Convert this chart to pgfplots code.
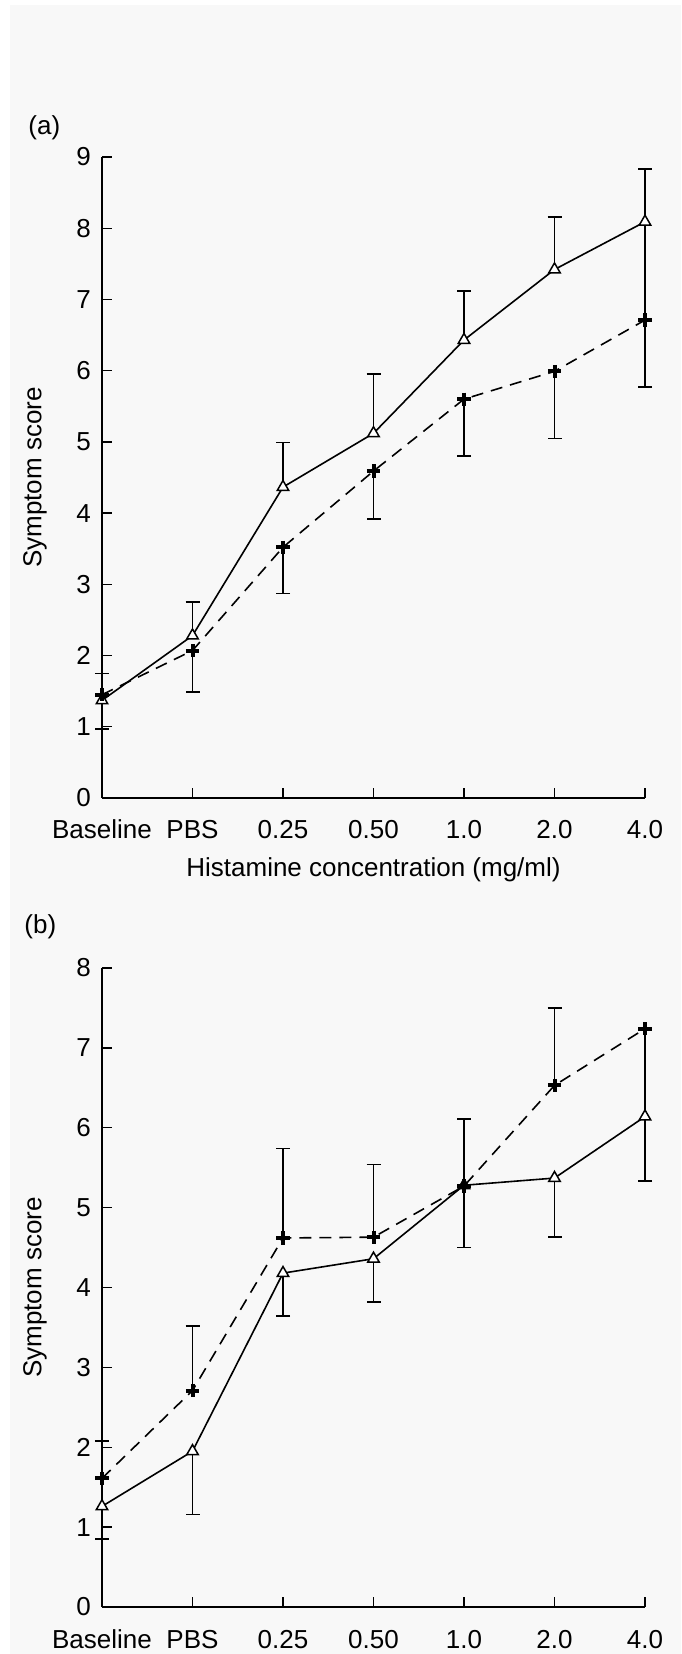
\documentclass[border=0pt]{standalone}
\usepackage{fontspec}
\setmainfont{Liberation Sans}
\usepackage{pgfplots}
\pgfplotsset{compat=1.18}
\definecolor{paper}{HTML}{F8F8F8}

\pgfplotsset{
  symp/.style={
    scale only axis, width=271.5pt,
    axis x line*=bottom, axis y line*=left,
    xmin=0, xmax=6, ymin=0,
    xtick={0,...,6},
    xticklabels={Baseline,PBS,0.25,0.50,1.0,2.0,4.0},
    tick align=inside, major tick length=5pt,
    tick style={black, line width=0.7pt},
    axis line style={line width=0.7pt},
    /pgf/number format/assume math mode=true,
    tick label style={font=\fontsize{13}{15}\selectfont},
    label style={font=\fontsize{13}{15}\selectfont},
    xticklabel style={anchor=base, yshift=-20.5pt},
    yticklabel style={xshift=-2pt},
    ylabel={Symptom score},
    ylabel style={at={(axis description cs:-0.1234,0.5)}, anchor=center},
    clip=false,
  },
  tri/.style={black, line width=0.8pt, mark=triangle*, mark size=3.3pt,
    mark options={fill=white, line width=0.75pt},
    error bars/y explicit,
    error bars/error mark options={rotate=90, mark size=3.5pt, line width=0.8pt},
    error bars/error bar style={line width=0.8pt}},
  crs/.style={black, line width=0.8pt, dash pattern=on 6pt off 4pt, mark=+, mark size=3.3pt,
    mark options={solid, line width=2pt},
    error bars/y explicit,
    error bars/error mark options={solid, rotate=90, mark size=3.5pt, line width=0.8pt},
    error bars/error bar style={solid, line width=0.8pt}},
  link/.style={draw=none, forget plot, error bars/y dir=minus, error bars/y explicit,
    error bars/error mark=none, error bars/error bar style={black, line width=0.8pt}},
}

\begin{document}
\begin{tikzpicture}
\useasboundingbox (0,0) rectangle (340.5pt,827pt);
\fill[paper] (5pt,0) rectangle (340.5pt,824.5pt);

% --- panel (a) ---
\begin{axis}[symp, at={(51pt,428pt)}, anchor=south west, height=320.5pt,
    ymax=9, ytick={0,...,9},
    xlabel={Histamine concentration (mg/ml)},
    xlabel style={at={(axis description cs:0.5,0)}, anchor=center, yshift=-36pt}]
\addplot[link] coordinates {(6,8.09) -= (0,1.38)};
\addplot[tri, error bars/y dir=plus] coordinates {
  (0,1.37) += (0,0.38)
  (1,2.28) += (0,0.47)
  (2,4.365) += (0,0.625)
  (3,5.12) += (0,0.83)
  (4,6.43) += (0,0.69)
  (5,7.42) += (0,0.74)
  (6,8.09) += (0,0.74)};
\addplot[crs, error bars/y dir=minus] coordinates {
  (0,1.45) -= (0,0.48)
  (1,2.07) -= (0,0.58)
  (2,3.52) -= (0,0.65)
  (3,4.59) -= (0,0.67)
  (4,5.60) -= (0,0.80)
  (5,5.99) -= (0,0.94)
  (6,6.71) -= (0,0.94)};
\end{axis}

% --- panel (b) ---
\begin{axis}[symp, at={(51pt,23.5pt)}, anchor=south west, height=319.5pt,
    ymax=8, ytick={0,...,8}]
\addplot[link] coordinates {(6,7.24) -= (0,1.10)};
\addplot[tri, error bars/y dir=minus] coordinates {
  (0,1.26) -= (0,0.41)
  (1,1.95) -= (0,0.79)
  (2,4.18) -= (0,0.54)
  (3,4.36) -= (0,0.54)
  (4,5.28) -= (0,0.78)
  (5,5.37) -= (0,0.74)
  (6,6.14) -= (0,0.81)};
\addplot[crs, error bars/y dir=plus] coordinates {
  (0,1.61) += (0,0.47)
  (1,2.71) += (0,0.81)
  (2,4.62) += (0,1.12)
  (3,4.63) += (0,0.91)
  (4,5.27) += (0,0.84)
  (5,6.53) += (0,0.97)
  (6,7.24) += (0,0)};
\end{axis}

\node[anchor=west, inner sep=0, font=\fontsize{13}{15}\selectfont] at (14pt,763pt) {(a)};
\node[anchor=west, inner sep=0, font=\fontsize{13}{15}\selectfont] at (12pt,363.5pt) {(b)};
\end{tikzpicture}
\end{document}
